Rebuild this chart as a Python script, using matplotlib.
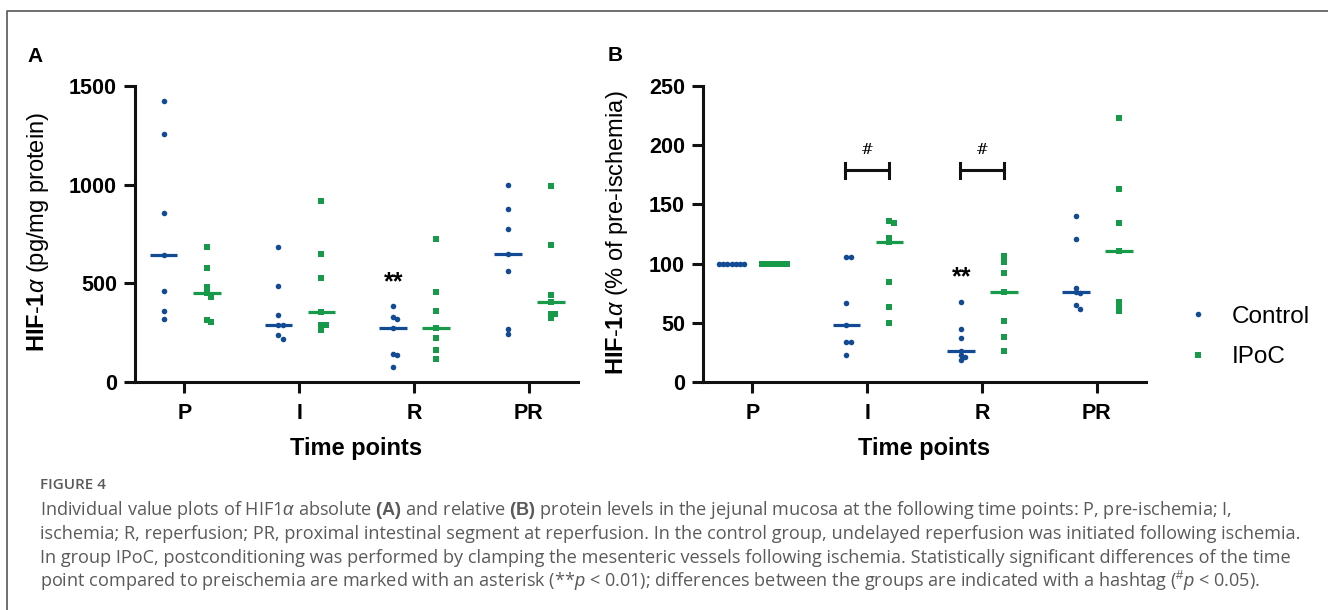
import numpy as np
import matplotlib
matplotlib.use("Agg")
import matplotlib.pyplot as plt
from matplotlib.lines import Line2D

plt.rcParams['font.family'] = ['Liberation Sans', 'DejaVu Sans']
plt.rcParams['mathtext.fontset'] = 'custom'
plt.rcParams['mathtext.rm'] = 'Liberation Sans'
plt.rcParams['mathtext.bf'] = 'Liberation Sans:bold'
plt.rcParams['mathtext.it'] = 'Liberation Sans:italic'

# ---- data ----
time_points = ['P', 'I', 'R', 'PR']
groups = ['Control', 'IPoC']

abs_control = [[1422, 1259, 858, 644, 462, 361, 320],
               [686, 489, 337, 290, 290, 239, 219],
               [386, 329, 319, 276, 143, 137, 78],
               [996, 876, 775, 649, 561, 270, 244]]
abs_ipoc = [[686, 576, 480, 450, 433, 312, 302],
            [917, 647, 528, 356, 287, 287, 265],
            [727, 455, 361, 276, 221, 163, 116],
            [991, 696, 443, 404, 346, 346, 322]]

rel_control = [[100, 100, 100, 100, 100, 100, 100],
               [105.4, 105.4, 66.8, 48.2, 33.5, 33.5, 22.8],
               [67.9, 45.1, 37.5, 26.5, 22.8, 21.4, 18.6],
               [139.8, 120.9, 79.5, 75.8, 75.0, 64.8, 61.7]]
rel_ipoc = [[100, 100, 100, 100, 100, 100, 100],
            [136.1, 134.2, 122.0, 118.1, 84.8, 63.7, 49.9],
            [106.0, 101.7, 91.9, 75.8, 51.9, 37.8, 26.5],
            [223.2, 162.9, 134.2, 111.0, 67.9, 63.7, 59.8]]

abs_yticks = [0, 500, 1000, 1500]
rel_yticks = [0, 50, 100, 150, 200, 250]

BLUE = '#124b94'
GREEN = '#179a49'
W, H = 1328, 610

fig = plt.figure(figsize=(W / 100, H / 100), dpi=100)


def swarm(vals, px_per_unit, d=4.0, step=4.2, cat_px=114.6):
    placed = []
    offs = []
    for v in vals:
        y = v * px_per_unit
        for k in range(40):
            c = (k + 1) // 2 * (1 if k % 2 else -1) * step
            if all((c - px) ** 2 + (y - py) ** 2 >= d * d for px, py in placed):
                break
        placed.append((c, y))
        offs.append(c / cat_px)
    return np.array(offs)


def panel(rect, ctrl, ipoc, ymax, yticks, ylabel, ylab_x):
    ax = fig.add_axes(rect)
    ax.set_xlim(-0.43, 3.43)
    ax.set_ylim(0, ymax)
    ppu = rect[3] * H / ymax
    for data, off, mk, col, ms in [(ctrl, -0.18, 'o', BLUE, 4.0), (ipoc, 0.195, 's', GREEN, 4.2)]:
        for i, vals in enumerate(data):
            vals = np.array(vals, dtype=float)
            xs = i + off + swarm(vals, ppu)
            ax.plot(xs, vals, ls='none', marker=mk, ms=ms, color=col, mew=0, zorder=3)
            ax.hlines(np.median(vals), i + off - 0.12, i + off + 0.12, color=col, lw=2.3, zorder=4)
    for s in ['top', 'right']:
        ax.spines[s].set_visible(False)
    for s in ['left', 'bottom']:
        ax.spines[s].set_linewidth(2.2)
        ax.spines[s].set_color('#111111')
    ax.spines['left'].set_bounds(0, ymax)
    ax.set_yticks(yticks)
    ax.set_xticks(range(len(time_points)))
    ax.set_xticklabels(time_points)
    ax.tick_params(axis='both', width=2.2, length=8, color='#111111', labelsize=15.5)
    ax.tick_params(axis='y', pad=5)
    ax.tick_params(axis='x', pad=7)
    for lab in ax.get_xticklabels() + ax.get_yticklabels():
        lab.set_fontweight('bold')
    ax.set_xlabel('Time points', fontsize=17, fontweight='bold')
    ax.xaxis.set_label_coords(0.5, -0.186)
    ax.set_ylabel(ylabel, fontsize=17)
    ax.yaxis.set_label_coords(ylab_x, 0.505)
    return ax


bottom = (H - 382) / H
height = 296 / H
axA = panel([135 / W, bottom, 443 / W, height], abs_control, abs_ipoc, 1500, abs_yticks,
            r'$\mathbf{HIF}$-$\mathbf{1}\alpha$ (pg/mg protein)', -0.19)
axB = panel([703 / W, bottom, 443 / W, height], rel_control, rel_ipoc, 250, rel_yticks,
            r'$\mathbf{HIF}$-$\mathbf{1}\alpha$ (% of pre-ischemia)', -0.165)

# significance marks
axA.text(2 - 0.18, 505, '**', ha='center', va='center', fontsize=18, fontweight='bold')
axB.text(2 - 0.18, 88, '**', ha='center', va='center', fontsize=18, fontweight='bold')
for i in [1, 2]:
    x0, x1 = i - 0.19, i + 0.19
    axB.plot([x0, x1], [178.7, 178.7], color='#111111', lw=2.2)
    axB.plot([x0, x0], [172.5, 185], color='#111111', lw=2.2)
    axB.plot([x1, x1], [172.5, 185], color='#111111', lw=2.2)
    axB.text(i, 196, '#', ha='center', va='center', fontsize=11, family='DejaVu Serif')

# legend
handles = [Line2D([], [], ls='none', marker='o', ms=4.0, mew=0, color=BLUE),
           Line2D([], [], ls='none', marker='s', ms=4.2, mew=0, color=GREEN)]
fig.legend(handles, groups, loc='center left', bbox_to_anchor=(1176 / W, 1 - 337 / H),
           frameon=False, fontsize=17.5, handlelength=0.8, handletextpad=1.0,
           labelspacing=0.78, borderpad=0)

# panel letters
fig.text(27 / W, 1 - 62 / H, 'A', fontsize=15, fontweight='bold', va='baseline')
fig.text(608 / W, 1 - 61 / H, 'B', fontsize=15, fontweight='bold', va='baseline')

# frame
fig.add_artist(Line2D([7 / W, 7 / W, 1], [0, 1 - 11 / H, 1 - 11 / H],
                      transform=fig.transFigure, color='#555555', lw=1.2))

# caption
cap_kw = dict(color='#5a5a5a', family=['Open Sans', 'DejaVu Sans'], va='baseline',
              math_fontfamily='custom')
fig.text(40 / W, 1 - 489 / H, 'FIGURE 4', fontsize=11, fontweight='semibold',
         color='#5a5a5a', family=['Open Sans', 'DejaVu Sans'], va='baseline')
lines = [
    r'Individual value plots of HIF1$\alpha$ absolute $\mathbf{(A)}$ and relative $\mathbf{(B)}$ protein levels in the jejunal mucosa at the following time points: P, pre-ischemia; I,',
    'ischemia; R, reperfusion; PR, proximal intestinal segment at reperfusion. In the control group, undelayed reperfusion was initiated following ischemia.',
    'In group IPoC, postconditioning was performed by clamping the mesenteric vessels following ischemia. Statistically significant differences of the time',
    r'point compared to preischemia are marked with an asterisk (**$p$ < 0.01); differences between the groups are indicated with a hashtag ($^{\#}p$ < 0.05).',
]
texts = []
for k, ln in enumerate(lines):
    texts.append(fig.text(40 / W, 1 - (515 + 24 * k) / H, ln, fontsize=12, **cap_kw))
r = fig.canvas.get_renderer()
wpx = texts[1].get_window_extent(r).width
fs = 12 * 1255 / wpx
for t in texts:
    t.set_fontsize(fs)

fig.savefig('out.png', dpi=100)
